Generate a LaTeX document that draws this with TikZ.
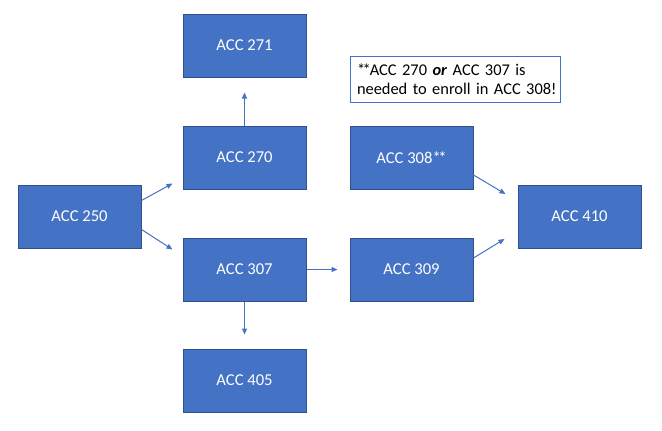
\documentclass[tikz,border=0pt]{standalone}
\usepackage{fontspec}
\setmainfont{Carlito}
\newfontfamily\notefont[WordSpace=0.6]{Carlito}
\usetikzlibrary{arrows.meta}
\definecolor{boxfill}{HTML}{4472C4}
\definecolor{boxline}{HTML}{2F528F}
\newcommand{\dblstar}{*\kern-2.5pt*\kern-1pt}
\begin{document}
\begin{tikzpicture}[x=1pt,y=-1pt,
  course/.style={rectangle, fill=boxfill, draw=boxline, line width=1pt,
    minimum width=123pt, minimum height=63pt, inner sep=0pt,
    text=white, font=\fontsize{16.6}{20}\selectfont},
  notebox/.style={rectangle, draw=boxfill, line width=0.9pt, fill=white,
    minimum width=210pt, minimum height=46pt, inner sep=0pt,
    text width=196pt, align=left, font=\notefont\fontsize{16.4}{19}\selectfont},
  arr/.style={draw=boxfill, line width=1pt, -{Triangle[length=6pt,width=5pt]}}]
\useasboundingbox (0,0) rectangle (662,431);
\node[course] (n271) at (244.5,45.5) {ACC 271};
\node[course] (n270) at (244.5,157.5) {ACC 270};
\node[course] (n250) at (79.5,216.5) {ACC 250};
\node[course] (n307) at (244.5,269.5) {ACC 307};
\node[course] (n405) at (244.5,380.5) {ACC 405};
\node[course] (n308) at (411.5,157.5) {ACC 308*\kern-2.5pt*};
\node[course] (n309) at (411.5,269.5) {ACC 309};
\node[course] (n410) at (579.5,216.5) {ACC 410};
\node[notebox] (note) at (455,79) {\mbox{\dblstar ACC 270 \textbf{\textit{or}} ACC 307 is}\\\mbox{needed to enroll in ACC 308!}};
\draw[arr] ([yshift=16pt]n250.east) -- ([xshift=-10pt,yshift=-26pt]n270.west);
\draw[arr] ([yshift=-13pt]n250.east) -- ([xshift=-10pt,yshift=20pt]n307.west);
\draw[arr] (n270.north) -- ([yshift=-15pt]n271.south);
\draw[arr] (n307.south) -- ([yshift=14pt]n405.north);
\draw[arr] (n307.east) -- ([xshift=-12pt]n309.west);
\draw[arr] ([yshift=-17.5pt]n308.east) -- ([xshift=-12pt,yshift=22.5pt]n410.west);
\draw[arr] ([yshift=11.5pt]n309.east) -- ([xshift=-13pt,yshift=-22.5pt]n410.west);
\end{tikzpicture}
\end{document}
